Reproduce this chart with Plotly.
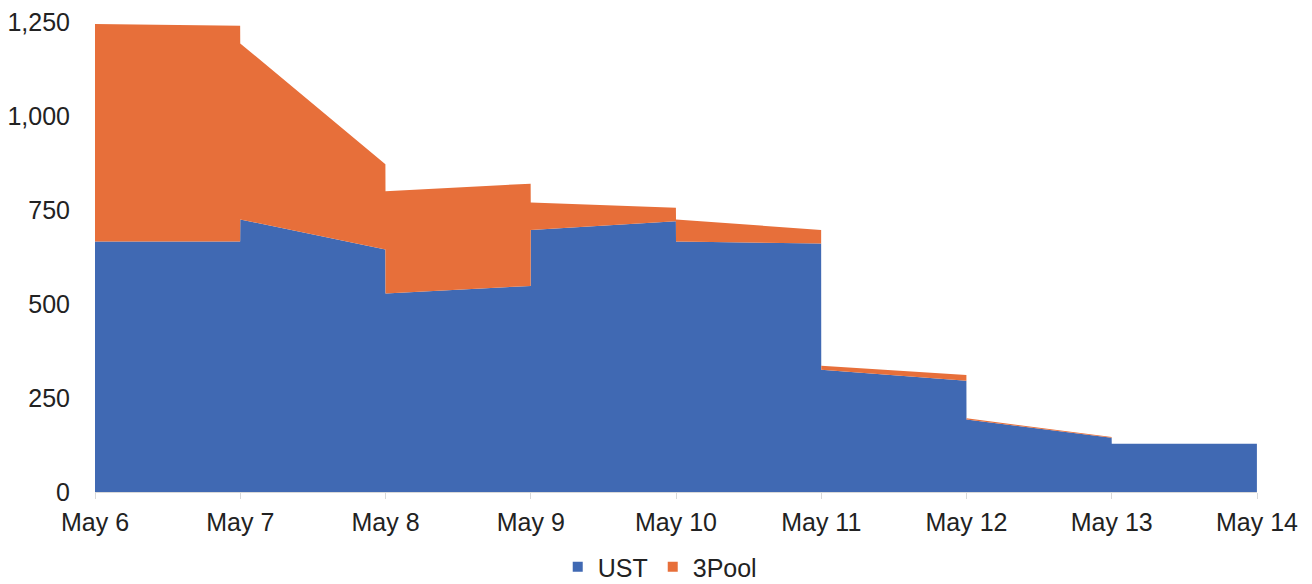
import pandas as pd
import plotly.graph_objects as go

# Daily balances (thousands), value at the start and at the end of each day
days = ["2022-05-06", "2022-05-07", "2022-05-08", "2022-05-09",
        "2022-05-10", "2022-05-11", "2022-05-12", "2022-05-13"]
ust_open = [666, 725, 528, 697, 666, 325, 193, 128]
ust_close = [666, 645, 548, 720, 661, 296, 144, 128]
pool_open = [579, 468, 272, 73, 59, 11, 3, 0]
pool_close = [574, 227, 272, 36, 36, 15, 2, 0]
tick_days = ["2022-05-06", "2022-05-07", "2022-05-08", "2022-05-09", "2022-05-10",
             "2022-05-11", "2022-05-12", "2022-05-13", "2022-05-14"]
y_ticks = [0, 250, 500, 750, 1000, 1250]

BLUE = "#4069B3"
ORANGE = "#E76F3A"
FONT = "Liberation Sans, Arial, Helvetica, sans-serif"

# Each day is drawn from its opening value to its closing value,
# so day boundaries appear as vertical steps.
xs, ust, total = [], [], []
for d, uo, uc, po, pc in zip(days, ust_open, ust_close, pool_open, pool_close):
    start = pd.Timestamp(d)
    end = start + pd.Timedelta(days=1) - pd.Timedelta(minutes=1)
    xs += [start, end]
    ust += [uo, uc]
    total += [uo + po, uc + pc]

fig = go.Figure()
fig.add_trace(go.Scatter(x=xs, y=ust, mode="lines", line=dict(width=0),
                         fill="tozeroy", fillcolor=BLUE, name="UST",
                         showlegend=False))
fig.add_trace(go.Scatter(x=xs, y=total, mode="lines", line=dict(width=0),
                         fill="tonexty", fillcolor=ORANGE, name="3Pool",
                         showlegend=False))
# square legend swatches
for name, color in [("UST", BLUE), ("3Pool", ORANGE)]:
    fig.add_trace(go.Scatter(x=[None], y=[None], mode="markers", name=name,
                             marker=dict(symbol="square", size=10, color=color)))

fig.update_layout(
    width=1312, height=584,
    margin=dict(l=95, r=55, t=22, b=92, autoexpand=False),
    paper_bgcolor="white", plot_bgcolor="white",
    font=dict(family=FONT, size=25, color="#222222"),
    showlegend=True,
    legend=dict(orientation="h", traceorder="normal",
                x=0.486, xanchor="center",
                yref="container", y=0.029, yanchor="middle",
                font=dict(size=25), itemwidth=30, tracegroupgap=0),
)
fig.update_xaxes(
    range=[pd.Timestamp(tick_days[0]), pd.Timestamp(tick_days[-1])],
    tickvals=[pd.Timestamp(t) for t in tick_days],
    tickformat="%b %-d",
    showline=True, linecolor="#D9D9D9", linewidth=1,
    ticks="outside", ticklen=6, tickcolor="#D9D9D9", ticklabelstandoff=2,
    showgrid=False, zeroline=False, automargin=False,
)
fig.update_yaxes(
    range=[0, 1250], tickvals=y_ticks, tickformat=",",
    showgrid=False, zeroline=False, showline=False,
    ticks="outside", ticklen=0, ticklabelstandoff=19, automargin=False,
)

fig.write_html("out.html")
